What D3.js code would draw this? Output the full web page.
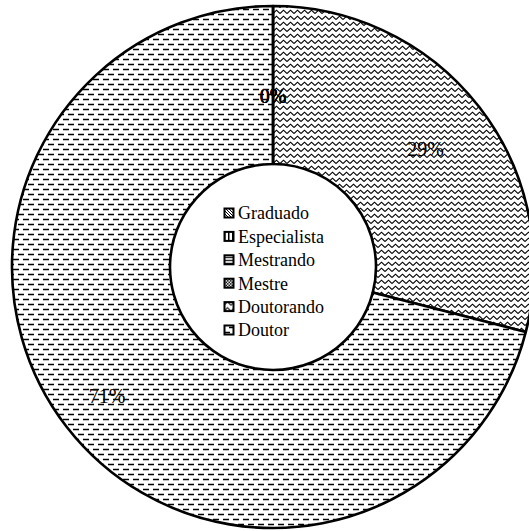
<!DOCTYPE html>
<html>
<head>
<meta charset="utf-8">
<script src="https://cdn.jsdelivr.net/npm/d3@7"></script>
<style>
  body { margin: 0; background: #fff; }
  text { font-family: "Liberation Serif", "Times New Roman", serif; }
</style>
</head>
<body>
<svg class="chart"></svg>
<script>
let width = 529,
  height = 531;

// categories and their shares (percent)
let categories = ["Graduado", "Especialista", "Mestrando", "Mestre", "Doutorando", "Doutor"];
let values = [0, 0, 0, 0, 29, 71];
let patterns = ["diag", "vert", "horiz", "dots", "zigzag", "dashes"];

let cx = 273,
  cy = 267,
  outerR = 261,
  innerR = 103;

// how far from the centre each % label sits
let labelRadius = [171, 171, 171, 171, 193, 210];

let svg = d3.select(".chart").attr("width", width).attr("height", height);
let defs = svg.append("defs");

// hatch patterns like the old office fills
function makePattern(id, w, h, draw) {
  let p = defs.append("pattern")
    .attr("id", id)
    .attr("patternUnits", "userSpaceOnUse")
    .attr("width", w)
    .attr("height", h);
  p.append("rect").attr("width", w).attr("height", h).attr("fill", "#fff");
  draw(p);
}

makePattern("zigzag", 7, 6, function (p) {
  p.append("path")
    .attr("d", "M0,4.5 L3.5,1.2 L7,4.5")
    .attr("fill", "none").attr("stroke", "#000").attr("stroke-width", 1.1);
});
makePattern("dashes", 10, 10, function (p) {
  p.append("path")
    .attr("d", "M0,2.5 H6 M5,7.5 H11 M-5,7.5 H1")
    .attr("fill", "none").attr("stroke", "#000").attr("stroke-width", 1.6);
});
makePattern("diag", 3, 3, function (p) {
  p.append("path").attr("d", "M0,0 L3,3 M-1,2 L1,4 M2,-1 L4,1")
    .attr("stroke", "#000").attr("stroke-width", 1);
});
makePattern("vert", 4, 4, function (p) {
  p.append("rect").attr("x", 0).attr("width", 1.5).attr("height", 4).attr("fill", "#000");
});
makePattern("horiz", 3, 3, function (p) {
  p.append("rect").attr("y", 0).attr("width", 3).attr("height", 1.2).attr("fill", "#000");
});
makePattern("dots", 3, 3, function (p) {
  p.append("rect").attr("width", 1.5).attr("height", 1.5).attr("fill", "#000");
  p.append("rect").attr("x", 1.5).attr("y", 1.5).attr("width", 1.5).attr("height", 1.5).attr("fill", "#000");
});

let pie = d3.pie().sort(null).value(d => d.value);
let data = categories.map((c, i) => ({ name: c, value: values[i], pattern: patterns[i] }));
let arcs = pie(data);

let arc = d3.arc().innerRadius(innerR).outerRadius(outerR);

let g = svg.append("g").attr("transform", "translate(" + cx + "," + cy + ")");

g.selectAll(".slice")
  .data(arcs.filter(d => d.value > 0))
  .enter()
  .append("path")
  .attr("class", "slice")
  .attr("d", arc)
  .attr("fill", d => "url(#" + d.data.pattern + ")")
  .attr("stroke", "#000")
  .attr("stroke-width", 2.6)
  .attr("stroke-linejoin", "round");

// zero slices still leave their line at the top
g.append("line")
  .attr("x1", 0).attr("y1", -innerR)
  .attr("x2", 0).attr("y2", -outerR)
  .attr("stroke", "#000").attr("stroke-width", 2.4);

// percent labels (the zero ones pile up at the top)
g.selectAll(".label")
  .data(arcs)
  .enter()
  .append("text")
  .attr("class", "label")
  .attr("transform", (d, i) => {
    let r = labelRadius[i];
    return "translate(" + d3.arc().innerRadius(r).outerRadius(r).centroid(d) + ")";
  })
  .attr("text-anchor", "middle")
  .attr("dy", "0.35em")
  .attr("font-size", 20)
  .attr("fill", "#000")
  .text(d => Math.round(d.value) + "%");

// legend in the hole
let legend = svg.append("g").attr("transform", "translate(224,213)");
let rowH = 23.4;

let item = legend.selectAll(".item")
  .data(data)
  .enter()
  .append("g")
  .attr("class", "item")
  .attr("transform", (d, i) => "translate(0," + i * rowH + ")");

item.append("rect")
  .attr("x", 0.5).attr("y", -4.5)
  .attr("width", 9).attr("height", 9)
  .attr("fill", d => "url(#" + d.pattern + ")")
  .attr("stroke", "#000")
  .attr("stroke-width", 2);

item.append("text")
  .attr("x", 14)
  .attr("y", 0)
  .attr("dy", "0.35em")
  .attr("font-size", 18)
  .attr("fill", "#000")
  .text(d => d.name);
</script>
</body>
</html>
